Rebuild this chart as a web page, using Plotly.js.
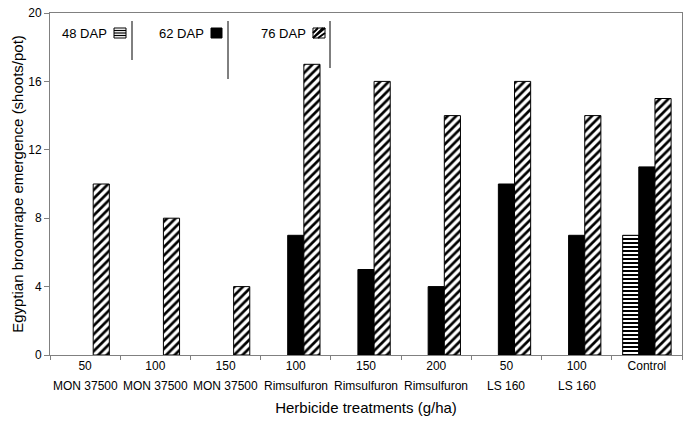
<!DOCTYPE html>
<html><head><meta charset="utf-8">
<script src="https://cdn.plot.ly/plotly-3.0.1.min.js"></script>
<style>html,body{margin:0;padding:0;background:#fff}#chart{width:689px;height:422px}</style>
</head><body><div id="chart"></div>
<script>
const categories = ["c1","c2","c3","c4","c5","c6","c7","c8","c9"];
const doseLabels = ["50","100","150","100","150","200","50","100","Control"];
const productLabels = ["MON 37500","MON 37500","MON 37500","Rimsulfuron","Rimsulfuron","Rimsulfuron","LS 160","LS 160",""];
const dap48 = [null,null,null,null,null,null,null,null,7];
const dap62 = [null,null,null,7,5,4,10,7,11];
const dap76 = [10,8,4,17,16,14,16,14,15];
const seriesNames = ["48 DAP","62 DAP","76 DAP"];

const FONT = "Arial, 'Liberation Sans', sans-serif";
const W = 689, H = 422, L = 50, R = 7, T = 13, B = 67;
const px = x => (x - L) / (W - L - R);
const py = y => (H - B - y) / (H - T - B);

const common = {type:'bar', x: categories, showlegend:false, hoverinfo:'y'};
const traces = [
  Object.assign({}, common, {name: seriesNames[0], y: dap48,
    marker:{color:'#fff', line:{color:'#000', width:1}, pattern:{shape:'-', fgcolor:'#000', bgcolor:'#fff', size:4, solidity:0.5}}}),
  Object.assign({}, common, {name: seriesNames[1], y: dap62,
    marker:{color:'#000', line:{color:'#000', width:1}}}),
  Object.assign({}, common, {name: seriesNames[2], y: dap76,
    marker:{color:'#fff', line:{color:'#000', width:1}, pattern:{shape:'/', fgcolor:'#000', bgcolor:'#fff', size:6, solidity:0.45}}})
];

const annotations = [];
categories.forEach((c, i) => {
  if (productLabels[i]) annotations.push({x: c, xref:'x', y: py(386), yref:'paper', text: productLabels[i], showarrow:false,
    font:{family:FONT, size:12, color:'#000'}, xanchor:'center', yanchor:'middle'});
});

const legendItems = [
  {text: seriesNames[0], textRight: 109, swatch:[114,126], line:[132, 21, 60], kind:'h'},
  {text: seriesNames[1], textRight: 206, swatch:[211,222], line:[228, 21, 79], kind:'s'},
  {text: seriesNames[2], textRight: 308, swatch:[313,325], line:[330, 21, 68], kind:'d'}
];
const shapes = [];
legendItems.forEach(it => {
  annotations.push({x: px(it.textRight), xref:'paper', y: py(33), yref:'paper', text: it.text, showarrow:false,
    xanchor:'right', yanchor:'middle', font:{family:FONT, size:13, color:'#000'}});
  const [x0, x1] = it.swatch, y0 = 28, y1 = 38;
  shapes.push({type:'rect', xref:'paper', yref:'paper', x0:px(x0), x1:px(x1), y0:py(y1), y1:py(y0),
    fillcolor: it.kind === 's' ? '#000' : '#fff', line:{color:'#000', width:1}});
  if (it.kind === 'h') {
    for (let y = y0 + 2.5; y < y1; y += 2.5)
      shapes.push({type:'line', xref:'paper', yref:'paper', x0:px(x0), x1:px(x1), y0:py(y), y1:py(y), line:{color:'#000', width:1.2}});
  }
  if (it.kind === 'd') {
    const segs = [[x0, y0+5, x0+5, y0],[x0, y1, x1, y0],[x0+5, y1, x1, y0+5],[x0, y0+10, x0+10, y0]];
    shapes.push({type:'path', xref:'paper', yref:'paper',
      path: segs.map(s => `M${px(s[0])},${py(s[1])}L${px(s[2])},${py(s[3])}`).join(''), line:{color:'#000', width:2}});
  }
  shapes.push({type:'line', xref:'paper', yref:'paper', x0:px(it.line[0]), x1:px(it.line[0]), y0:py(it.line[1]), y1:py(it.line[2]),
    line:{color:'#000', width:1}});
});

const layout = {
  width: W, height: H,
  margin: {l: L, r: R, t: T, b: B},
  paper_bgcolor:'#fff', plot_bgcolor:'#fff',
  font: {family: FONT, size: 12, color: '#000'},
  barmode:'group', bargap: 0.31, bargroupgap: 0,
  xaxis: {
    tickmode:'array', tickvals: categories, ticktext: doseLabels,
    ticks:'outside', tickson:'boundaries', ticklen:4, tickcolor:'#808080',
    showline:true, linecolor:'#808080', linewidth:1, mirror:true, showgrid:false, zeroline:false,
    tickfont:{family:FONT, size:12, color:'#000'},
    title:{text:'Herbicide treatments (g/ha)', font:{family:FONT, size:15, color:'#000'}, standoff: 30}
  },
  yaxis: {
    range:[0,20], tickvals:[0,4,8,12,16,20], ticks:'outside', ticklen:5, tickcolor:'#808080',
    showline:true, linecolor:'#808080', linewidth:1, mirror:true, showgrid:false, zeroline:false,
    tickfont:{family:FONT, size:12, color:'#000'},
    title:{text:'Egyptian broomrape emergence (shoots/pot)', font:{family:FONT, size:15, color:'#000'}, standoff: 0}
  },
  annotations, shapes
};
Plotly.newPlot('chart', traces, layout, {displayModeBar:false, staticPlot:true});
</script></body></html>
